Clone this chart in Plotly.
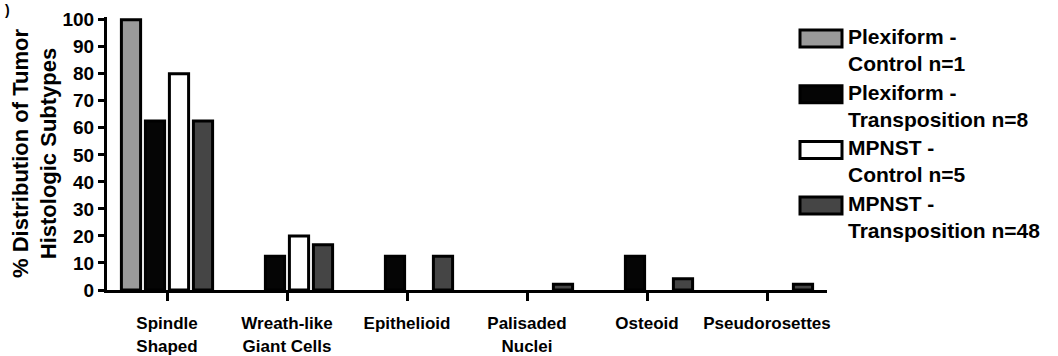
import plotly.graph_objects as go

categories = ["Spindle<br>Shaped", "Wreath-like<br>Giant Cells", "Epithelioid",
              "Palisaded<br>Nuclei", "Osteoid", "Pseudorosettes"]

series_names = ["Plexiform -<br>Control n=1", "Plexiform -<br>Transposition n=8",
                "MPNST -<br>Control n=5", "MPNST -<br>Transposition n=48"]

plexiform_control = [100, 0, 0, 0, 0, 0]
plexiform_transposition = [62.5, 12.5, 12.5, 0, 12.5, 0]
mpnst_control = [80, 20, 0, 0, 0, 0]
mpnst_transposition = [62.5, 16.7, 12.5, 2.1, 4.2, 2.1]

series_values = [plexiform_control, plexiform_transposition, mpnst_control, mpnst_transposition]
fill_colors = ["#9a9a9a", "#050505", "#ffffff", "#454545"]

y_ticks = [0, 10, 20, 30, 40, 50, 60, 70, 80, 90, 100]

FONT = "Liberation Sans, Arial, Helvetica, sans-serif"

fig = go.Figure()
for name, vals, col in zip(series_names, series_values, fill_colors):
    fig.add_trace(go.Bar(
        x=categories, y=vals, name=name,
        marker=dict(color=col,
                    line=dict(color="#000000", width=[3 if v > 0 else 0 for v in vals])),
        showlegend=False,
    ))

# Legend drawn as outlined swatches with two-line labels
legend_top = 30
legend_step = 55.7
for i, (name, col) in enumerate(zip(series_names, fill_colors)):
    y0 = legend_top + i * legend_step
    fig.add_shape(type="rect", xref="paper", yref="paper",
                  x0=(800 - 107) / 720, x1=(842 - 107) / 720,
                  y0=(290 - y0) / 273, y1=(290 - (y0 + 17)) / 273,
                  fillcolor=col, line=dict(color="#000000", width=3))
    fig.add_annotation(xref="paper", yref="paper",
                       x=(846 - 107) / 720, y=(290 - (y0 - 7)) / 273,
                       xanchor="left", yanchor="top", align="left",
                       text=name, showarrow=False,
                       font=dict(family=FONT, size=21, color="#000000", weight="bold"))

# Panel letter fragment in the corner
fig.add_annotation(xref="paper", yref="paper", x=-104 / 720, y=(290 + 0) / 273,
                   xanchor="left", yanchor="top", text=")", showarrow=False,
                   font=dict(family=FONT, size=14, color="#000000", weight="bold"))

fig.update_layout(
    width=1058, height=356,
    margin=dict(l=107, r=231, t=17, b=66),
    paper_bgcolor="#ffffff", plot_bgcolor="#ffffff",
    barmode="group", bargap=0.2, bargroupgap=0.2,
    font=dict(family=FONT, color="#000000", weight="bold"),
    xaxis=dict(
        automargin=False,
        showline=True, linecolor="#000000", linewidth=3,
        ticks="outside", ticklen=8, tickwidth=3, tickcolor="#000000",
        ticklabelstandoff=8,
        tickfont=dict(size=17, family=FONT, weight="bold"),
        showgrid=False, zeroline=False, range=[-0.5, 5.5],
    ),
    yaxis=dict(
        automargin=False,
        range=[0, 101], tickvals=y_ticks,
        showline=True, linecolor="#000000", linewidth=3,
        ticks="outside", ticklen=6, tickwidth=3, tickcolor="#000000",
        tickfont=dict(size=19, family=FONT, weight="bold"),
        showgrid=False, zeroline=False,
        title=dict(text="% Distribution of Tumor<br>Histologic Subtypes",
                   font=dict(size=22, family=FONT, weight="bold"), standoff=0),
    ),
)

fig.write_html("out.html")
